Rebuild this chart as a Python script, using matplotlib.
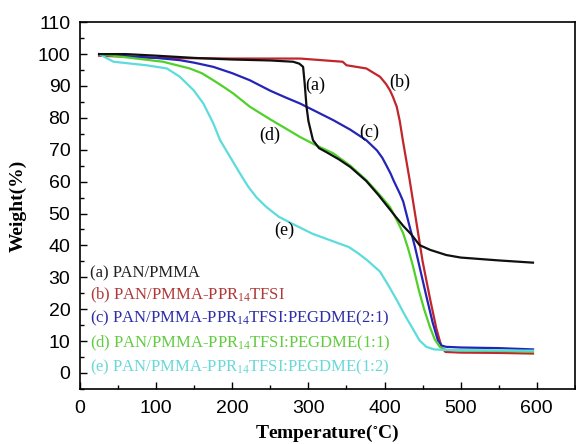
import matplotlib
matplotlib.use("Agg")
import matplotlib.pyplot as plt
from matplotlib.ticker import MultipleLocator

plt.rcParams['font.family'] = 'Liberation Sans'
plt.rcParams['mathtext.default'] = 'regular'

# TGA curves (temperature in C, weight in %)
t_a = [25, 60, 100, 150, 200, 250, 280, 288, 293, 295, 297.5, 300, 306, 314, 324, 340, 355, 376, 392,
       407, 416, 425, 435, 446, 460, 481, 500, 550, 595]
w_a = [100, 100, 99.5, 98.8, 98.3, 98, 97.6, 97, 96, 91, 83.5, 79, 73, 70.5, 69.2, 67, 64.6, 60.2, 55.8,
       51.3, 48.6, 46, 43.5, 40.1, 38.6, 37, 36.2, 35.3, 34.6]

t_b = [25, 100, 200, 289, 345, 350, 376, 394, 402, 407, 411, 416, 420, 424, 433, 440, 450, 460, 468,
       475, 480, 500, 550, 595]
w_b = [99.5, 98.8, 98.6, 98.6, 97.6, 96.5, 95.5, 92.9, 90.6, 88.7, 86.6, 83.5, 79, 73, 60.5, 50, 35, 23, 14,
       8, 6.6, 6.4, 6.3, 6.1]

t_c = [25, 50, 100, 131, 150, 175, 200, 223, 250, 270, 289, 310, 332.5, 355, 376, 390, 397, 402.6, 408,
       412, 420, 424.5, 433, 440, 446, 455, 463, 470, 475, 481, 500, 550, 595]
w_c = [100, 99.5, 98.8, 98.1, 97.3, 96, 94, 91.8, 88.5, 86.4, 84.5, 82, 79.3, 76.3, 73, 69.8, 67.5, 65, 62.5,
       60.3, 56.3, 53.8, 45.9, 39.5, 33.3, 24, 16, 10.3, 8.6, 8.2, 8, 7.8, 7.4]

t_d = [25, 60, 109, 144, 160, 175, 188, 201, 223, 250, 270, 289, 310, 332.5, 355, 376, 392, 407, 416,
       424.5, 431, 437.6, 445, 452, 459.5, 466, 472.6, 480, 500, 550, 595]
w_d = [100, 99, 97.6, 95.5, 94, 91.8, 89.8, 87.7, 83.5, 79.5, 76.7, 74, 71.4, 68.9, 65, 60.5, 56.3, 52.1, 48,
       43.8, 39, 33.3, 26, 20, 14.5, 10.5, 8.2, 7.3, 7, 6.9, 6.7]

t_e = [25, 44, 87, 114, 131, 149, 162, 175, 184, 197, 210, 221, 232, 245, 261, 283, 305, 330, 353,
       365, 377, 394, 405, 416, 427, 438, 446, 455, 465, 480, 595]
w_e = [100, 97.6, 96.5, 95.5, 92.9, 88.7, 84.5, 78.3, 73, 67.8, 62.6, 58.4, 55, 52, 49, 46.3, 43.7, 41.5, 39.5,
       37.6, 35.4, 31.8, 27.5, 22.9, 18, 13.5, 10.2, 8.2, 7.4, 7.2, 7]

series = [
    (t_a, w_a, '#101010', '#222222', '(a) PAN/PMMA'),
    (t_b, w_b, '#c0262c', '#b03a3a', '(b) PAN/PMMA-PPR$_{14}$TFSI'),
    (t_c, w_c, '#2424b8', '#2e2ea8', '(c) PAN/PMMA-PPR$_{14}$TFSI:PEGDME(2:1)'),
    (t_d, w_d, '#4fd12a', '#62cc40', '(d) PAN/PMMA-PPR$_{14}$TFSI:PEGDME(1:1)'),
    (t_e, w_e, '#5cdcdc', '#6ad8d8', '(e) PAN/PMMA-PPR$_{14}$TFSI:PEGDME(1:2)'),
]
legend_y = [31.2, 24.4, 17.0, 9.2, 1.9]

# curve tags next to the lines
tags = ['(a)', '(b)', '(c)', '(d)', '(e)']
tag_x = [309, 420, 380, 249, 268]
tag_y = [90.3, 91.0, 75.6, 74.6, 44.8]

fig = plt.figure(figsize=(5.76, 4.44), dpi=100)
ax = fig.add_axes([0.139, 0.124, 0.859, 0.826])

# green drawn before black so the black shows on top where they overlap
order = [1, 2, 3, 4, 0]
for i in order:
    t, w, lc, tc, lab = series[i]
    ax.plot(t, w, color=lc, lw=1.6)
for (t, w, lc, tc, lab), ly in zip(series, legend_y):
    ax.text(13, ly, lab, color=tc, fontsize=12, family='Liberation Serif', va='center')

for s, x, y in zip(tags, tag_x, tag_y):
    ax.text(x, y, s, fontsize=13, family='Liberation Serif', ha='center', va='center')

ax.set_xlim(0, 650)
ax.set_ylim(-5, 110)
ax.xaxis.set_major_locator(MultipleLocator(100))
ax.xaxis.set_minor_locator(MultipleLocator(50))
ax.yaxis.set_major_locator(MultipleLocator(10))
ax.yaxis.set_minor_locator(MultipleLocator(5))
ax.set_xticks([0, 100, 200, 300, 400, 500, 600])
ax.tick_params(direction='in', which='major', length=5, width=1, labelsize=14, top=False, right=False)
ax.tick_params(axis='x', which='major', pad=8)
ax.tick_params(axis='y', which='major', pad=7)
ax.tick_params(direction='in', which='minor', length=3, width=1, top=False, right=False)
for sp in ax.spines.values():
    sp.set_linewidth(1.2)

ax.set_xlabel('Temperature($^{\\circ}$C)', fontsize=14, fontweight='bold', family='Liberation Serif', labelpad=4)
ax.set_ylabel('Weight(%)', fontsize=14, fontweight='bold', family='Liberation Serif', labelpad=8)

fig.savefig('out.png', dpi=100)
